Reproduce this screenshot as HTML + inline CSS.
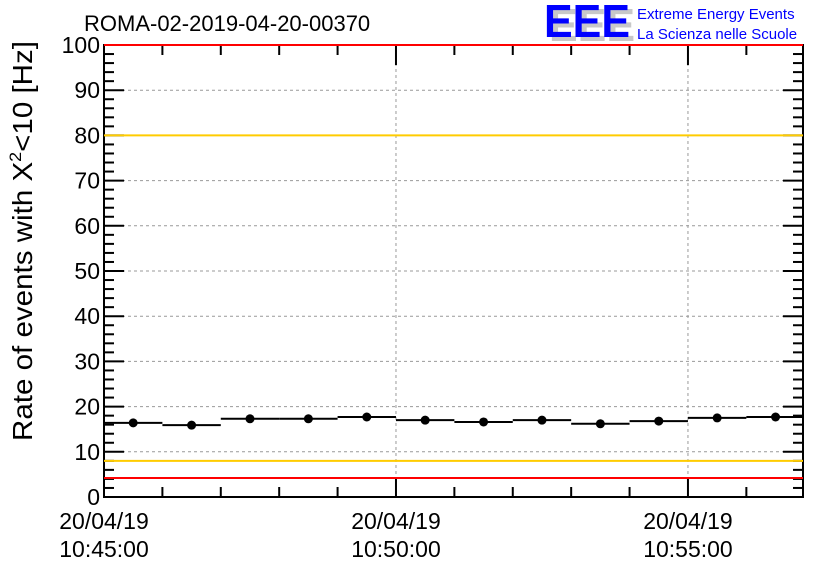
<!DOCTYPE html>
<html><head><meta charset="utf-8"><style>
body{margin:0;background:#fff;}
svg{display:block;font-family:"Liberation Sans",sans-serif;}
</style></head><body>
<svg id="c" width="836" height="572" xmlns="http://www.w3.org/2000/svg">
<rect width="836" height="572" fill="#fff"/>
<text x="84" y="31" font-size="22">ROMA-02-2019-04-20-00370</text>
<g>
<text x="549" y="41" font-size="46" font-weight="bold" fill="#c8c8c8" textLength="86" lengthAdjust="spacingAndGlyphs">EEE</text>
<text x="544" y="37" font-size="46" font-weight="bold" fill="#0000ff" textLength="86" lengthAdjust="spacingAndGlyphs">EEE</text>
<text x="637" y="19" font-size="15" fill="#0000ff">Extreme Energy Events</text>
<text x="637" y="39" font-size="15" fill="#0000ff">La Scienza nelle Scuole</text>
</g>
<text transform="translate(32,241) rotate(-90)" text-anchor="middle" font-size="28" textLength="400" lengthAdjust="spacingAndGlyphs">Rate of events with X<tspan dy="-11" font-size="17">2</tspan><tspan dy="11">&lt;10 [Hz]</tspan></text>
<g id="plot"></g>
</svg>
<script>
const binValues=[16.4,15.9,17.3,17.3,17.7,17.0,16.6,17.0,16.2,16.8,17.5,17.7];
const yTicks=[0,10,20,30,40,50,60,70,80,90,100];
const xTickMinutes=[0,5,10];
const xTickLabels=["10:45:00","10:50:00","10:55:00"];
const xDateLabel="20/04/19";
const redLines=[100,4.2];
const orangeLines=[80,8];
const L=104,R=803,T=45,B=497,xMax=11.97;
const X=m=>L+(R-L)*m/xMax;
const Y=v=>B-(B-T)*v/100;
const g=document.getElementById('plot');
const NS="http://www.w3.org/2000/svg";
function mk(t,a){const e=document.createElementNS(NS,t);for(const k in a)e.setAttribute(k,a[k]);g.appendChild(e);return e;}
for(const v of yTicks){if(v===0||v===100)continue;
const e=mk('line',{x1:L,x2:R,y1:Y(v),y2:Y(v),stroke:'#999','stroke-dasharray':'3,3','stroke-width':1});

}
for(const m of xTickMinutes){if(m===0)continue;
const e=mk('line',{x1:X(m),x2:X(m),y1:T,y2:B,stroke:'#999','stroke-dasharray':'3,3','stroke-width':1});

}
binValues.forEach((v,i)=>{
const h=mk('line',{x1:X(i),x2:X(Math.min(i+1,xMax)),y1:Y(v),y2:Y(v),stroke:'#000','stroke-width':2});


const c=mk('circle',{cx:X(i+0.5),cy:Y(v),r:4.5,fill:'#000'});


});
const f=mk('rect',{x:L,y:T,width:R-L,height:B-T,fill:'none',stroke:'#000','stroke-width':2});


for(let v=0;v<=100;v+=2){const len=v%10===0?20:10;
const a=mk('line',{x1:L,x2:L+len,y1:Y(v),y2:Y(v),stroke:'#000','stroke-width':2});


const b=mk('line',{x1:R,x2:R-len,y1:Y(v),y2:Y(v),stroke:'#000','stroke-width':2});

}
for(const v of yTicks){const t=mk('text',{x:L-4,y:Y(v)+8,'text-anchor':'end','font-size':23});
t.textContent=v;

}
for(let m=0;m<=11;m++){const len=m%5===0?20:10;
const a=mk('line',{x1:X(m),x2:X(m),y1:B,y2:B-len,stroke:'#000','stroke-width':2});


const b=mk('line',{x1:X(m),x2:X(m),y1:T,y2:T+len,stroke:'#000','stroke-width':2});

}
for(const v of orangeLines){const e=mk('line',{x1:L,x2:R,y1:Y(v),y2:Y(v),stroke:'#ffcc00','stroke-width':2});

}
for(const v of redLines){const e=mk('line',{x1:L,x2:R,y1:Y(v),y2:Y(v),stroke:'#ff0000','stroke-width':2});

}
xTickMinutes.forEach((m,i)=>{
const d=mk('text',{x:X(m),y:529,'text-anchor':'middle','font-size':23});d.textContent=xDateLabel;


const t=mk('text',{x:X(m),y:557,'text-anchor':'middle','font-size':23});t.textContent=xTickLabels[i];

});
</script>
</body></html>
